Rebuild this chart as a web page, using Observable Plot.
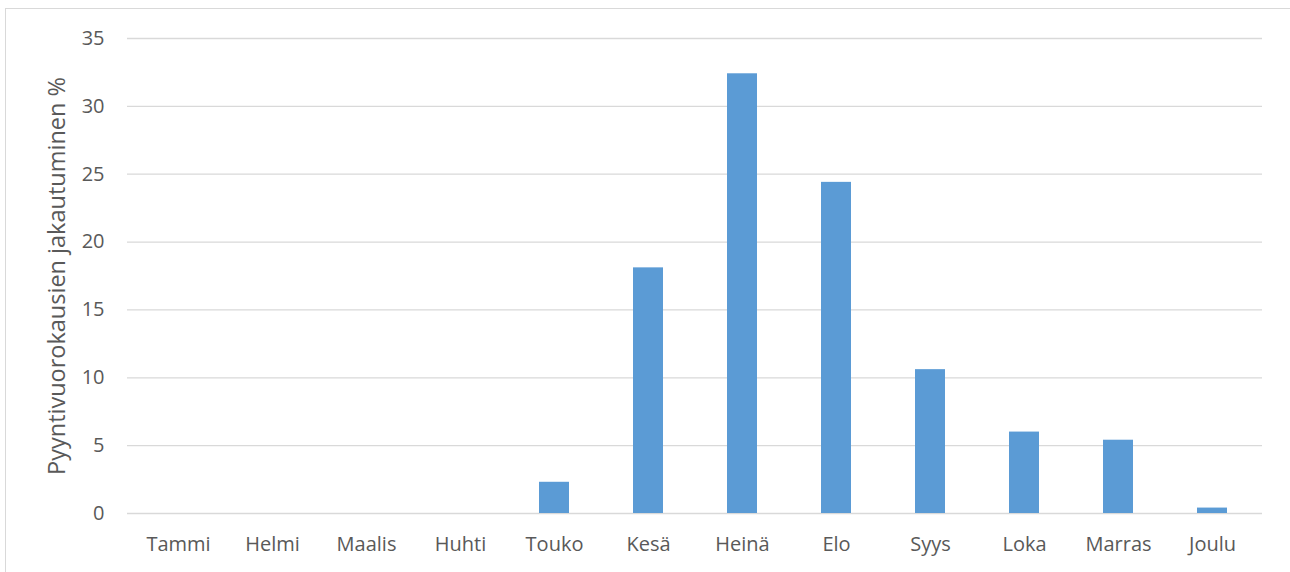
<!DOCTYPE html>
<html>
<head>
<meta charset="utf-8">
<script src="https://cdn.jsdelivr.net/npm/d3@7"></script>
<script src="https://cdn.jsdelivr.net/npm/@observablehq/plot@0.6"></script>
<style>
  html, body { margin: 0; padding: 0; background: #fff; overflow: hidden; }
  #wrap { position: relative; width: 1290px; height: 572px; }
  #frame { position: absolute; left: 5px; top: 8px; width: 1300px; height: 600px;
           border: 1px solid #d9d9d9; box-sizing: border-box; pointer-events: none; }
  #chart { position: absolute; left: 0; top: 0; }
</style>
</head>
<body>
<div id="wrap">
  <div id="frame"></div>
  <div id="chart"></div>
</div>
<script>
// Kuukaudet ja pyyntivuorokausien osuus (%) kuukausittain
const months = ["Tammi", "Helmi", "Maalis", "Huhti", "Touko", "Kesä", "Heinä", "Elo", "Syys", "Loka", "Marras", "Joulu"];
const shares = [0, 0, 0, 0, 2.3, 18.1, 32.4, 24.4, 10.6, 6.0, 5.4, 0.4];
const yTicks = [0, 5, 10, 15, 20, 25, 30, 35];
const yTitle = "Pyyntivuorokausien jakautuminen %";

const data = months.map((m, i) => ({month: m, value: shares[i]}));

const textColor = "#595959";
const font = "'Open Sans', 'DejaVu Sans', sans-serif";

const chart = Plot.plot({
  width: 1290,
  height: 572,
  marginLeft: 127,
  marginRight: 28,
  marginTop: 38,
  marginBottom: 59,
  style: {fontFamily: font, color: textColor, background: "transparent"},
  x: {domain: months, paddingInner: 0.683, paddingOuter: 0.3415, label: null},
  y: {domain: [0, 35], label: null},
  marks: [
    Plot.ruleY(yTicks, {stroke: "#d9d9d9", strokeWidth: 1.3}),
    Plot.barY(data, {x: "month", y: "value", fill: "#5b9bd5"}),
    Plot.axisX({tickSize: 0, tickPadding: 23, fontSize: 20, fill: textColor, label: null}),
    Plot.axisY({ticks: yTicks, tickSize: 0, tickPadding: 23, fontSize: 20, fill: textColor, label: null}),
    Plot.text([yTitle], {
      text: d => d,
      frameAnchor: "left",
      textAnchor: "middle",
      rotate: -90,
      dx: -70,
      fontSize: 23.5,
      fill: textColor
    })
  ]
});

document.getElementById("chart").appendChild(chart);
</script>
</body>
</html>
